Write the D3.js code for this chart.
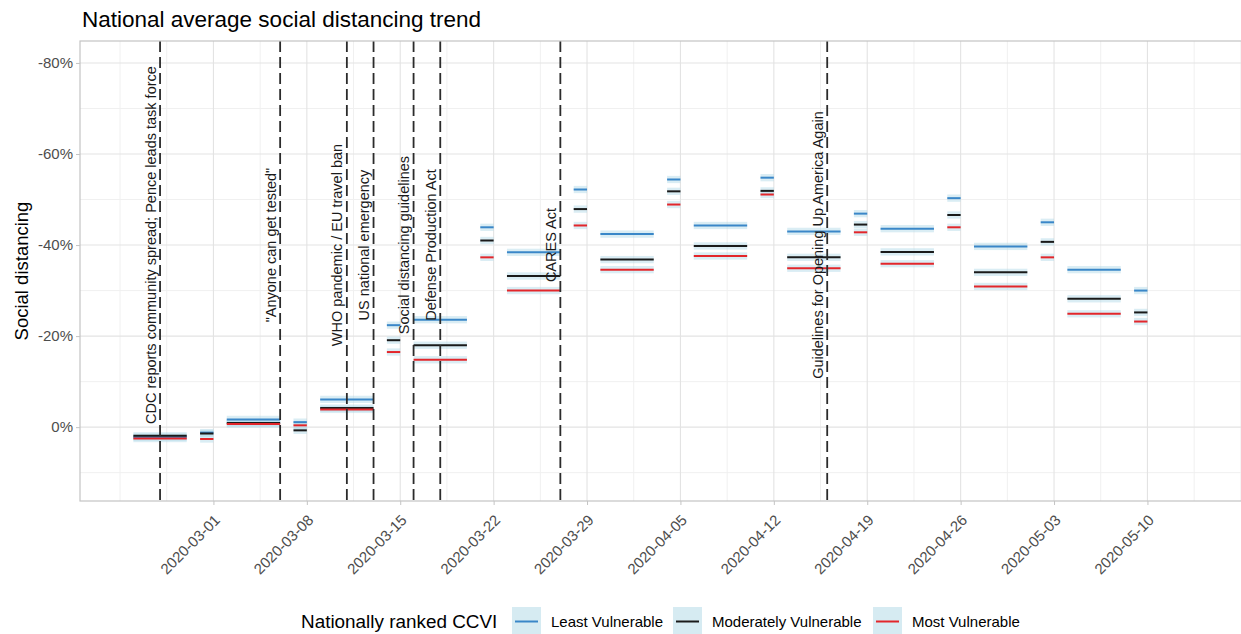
<!DOCTYPE html>
<html><head><meta charset="utf-8">
<script src="https://cdn.jsdelivr.net/npm/d3@7"></script>
<style>
body{margin:0;background:#fff;}
text{font-family:"Liberation Sans",Arial,Helvetica,sans-serif;}
</style></head>
<body><svg id="chart" width="1241" height="634"></svg>
<script>
// ---- data ----
const periodStart = ["2020-02-24","2020-02-29","2020-03-02","2020-03-07","2020-03-09","2020-03-14","2020-03-16","2020-03-21","2020-03-23","2020-03-28","2020-03-30","2020-04-04","2020-04-06","2020-04-11","2020-04-13","2020-04-18","2020-04-20","2020-04-25","2020-04-27","2020-05-02","2020-05-04","2020-05-09"];
const periodEnd   = ["2020-02-28","2020-03-01","2020-03-06","2020-03-08","2020-03-13","2020-03-15","2020-03-20","2020-03-22","2020-03-27","2020-03-29","2020-04-03","2020-04-05","2020-04-10","2020-04-12","2020-04-17","2020-04-19","2020-04-24","2020-04-26","2020-05-01","2020-05-03","2020-05-08","2020-05-10"];
const leastVulnerable    = [0.022,0.012,-0.017,-0.011,-0.061,-0.224,-0.236,-0.439,-0.384,-0.522,-0.424,-0.544,-0.443,-0.548,-0.430,-0.469,-0.436,-0.503,-0.397,-0.450,-0.346,-0.300];
const moderateVulnerable = [0.019,0.014,-0.009,0.007,-0.042,-0.191,-0.180,-0.410,-0.332,-0.479,-0.368,-0.518,-0.398,-0.519,-0.373,-0.445,-0.385,-0.466,-0.340,-0.407,-0.282,-0.252];
const mostVulnerable     = [0.025,0.026,-0.007,-0.004,-0.039,-0.165,-0.148,-0.373,-0.300,-0.443,-0.346,-0.489,-0.376,-0.511,-0.349,-0.428,-0.359,-0.439,-0.309,-0.373,-0.249,-0.232];
const ciHalfWidth = 0.008;
const seriesNames = ["Least Vulnerable","Moderately Vulnerable","Most Vulnerable"];
const seriesColors = ["#3a87c8","#1a1a1a","#e3262b"];
const eventDates = ["2020-02-26","2020-03-06","2020-03-11","2020-03-13","2020-03-16","2020-03-18","2020-03-27","2020-04-16"];
const eventLabels = ["CDC reports community spread; Pence leads task force","\"Anyone can get tested\"","WHO pandemic / EU travel ban","US national emergency","Social distancing guidelines","Defense Production Act","CARES Act","Guidelines for Opening Up America Again"];
const xTickDates = ["2020-03-01","2020-03-08","2020-03-15","2020-03-22","2020-03-29","2020-04-05","2020-04-12","2020-04-19","2020-04-26","2020-05-03","2020-05-10"];
const yTicks = [-0.8,-0.6,-0.4,-0.2,0];
const yMinor = [-0.7,-0.5,-0.3,-0.1,0.1];

// ---- layout ----
const parse = d3.utcParse("%Y-%m-%d");
const P = {left:80, right:1241, top:41, bottom:501};
const svg = d3.select("#chart");
const x = d3.scaleUtc().domain([parse("2020-02-20"), parse("2020-05-17")]).range([P.left, P.left + 87*13.343]);
const y = d3.scaleLinear().domain([0.1622,-0.8482]).range([P.bottom, P.top]);

const xMajor = [parse("2020-02-23")].concat(xTickDates.map(parse)).concat([parse("2020-05-17")]);
const xMinor = [];
for (let i=0;i<xMajor.length-1;i++){ xMinor.push(new Date((+xMajor[i]+ +xMajor[i+1])/2)); }

const g = svg.append("g");
// grid
g.selectAll(".ymin").data(yMinor).join("line").attr("x1",P.left).attr("x2",P.right).attr("y1",d=>y(d)).attr("y2",d=>y(d)).attr("stroke","#f0f0f0").attr("stroke-width",1);
g.selectAll(".xmin").data(xMinor.concat([xMajor[0], xMajor[xMajor.length-1]])).join("line").attr("x1",d=>x(d)).attr("x2",d=>x(d)).attr("y1",P.top).attr("y2",P.bottom).attr("stroke","#f0f0f0").attr("stroke-width",1);
g.selectAll(".ymaj").data(yTicks).join("line").attr("x1",P.left).attr("x2",P.right).attr("y1",d=>y(d)).attr("y2",d=>y(d)).attr("stroke","#e3e3e3").attr("stroke-width",1.1);
g.selectAll(".xmaj").data(xTickDates.map(parse)).join("line").attr("x1",d=>x(d)).attr("x2",d=>x(d)).attr("y1",P.top).attr("y2",P.bottom).attr("stroke","#e3e3e3").attr("stroke-width",1.1);

// ribbons
const allSeries = [leastVulnerable, moderateVulnerable, mostVulnerable];
allSeries.forEach((vals,si)=>{
  g.append("g").selectAll("rect").data(vals).join("rect")
    .attr("x",(d,i)=>x(parse(periodStart[i])))
    .attr("width",(d,i)=>x(parse(periodEnd[i]))-x(parse(periodStart[i])))
    .attr("y",d=>y(d-ciHalfWidth))
    .attr("height",d=>y(d+ciHalfWidth)-y(d-ciHalfWidth))
    .attr("fill","#add8e6").attr("fill-opacity",0.45);
});
// lines
allSeries.forEach((vals,si)=>{
  g.append("g").selectAll("line").data(vals).join("line")
    .attr("x1",(d,i)=>x(parse(periodStart[i])))
    .attr("x2",(d,i)=>x(parse(periodEnd[i])))
    .attr("y1",d=>y(d)).attr("y2",d=>y(d))
    .attr("stroke",seriesColors[si]).attr("stroke-width",2);
});

// event lines
g.selectAll(".ev").data(eventDates).join("line")
  .attr("x1",d=>x(parse(d))).attr("x2",d=>x(parse(d)))
  .attr("y1",P.top).attr("y2",P.bottom)
  .attr("stroke","#2b2b2b").attr("stroke-width",1.8).attr("stroke-dasharray","11,5");
g.selectAll(".evt").data(eventDates).join("text")
  .attr("transform",d=>`translate(${x(parse(d))-4.5},${y(-0.4)}) rotate(-90)`)
  .attr("text-anchor","middle").attr("font-size",14.5).attr("fill","#1a1a1a")
  .text((d,i)=>eventLabels[i]);

// panel border
svg.append("rect").attr("x",P.left).attr("y",P.top).attr("width",P.right-P.left+2).attr("height",P.bottom-P.top)
  .attr("fill","none").attr("stroke","#c4c4c4").attr("stroke-width",1.2);

// y axis
const yAxis = d3.axisLeft(y).tickValues(yTicks).tickFormat(d=>d3.format(".0%")(d).replace("−","-")).tickSize(4).tickPadding(3);
const ya = svg.append("g").attr("transform",`translate(${P.left},0)`).call(yAxis);
ya.select(".domain").remove();
ya.selectAll("line").attr("stroke","#c4c4c4");
ya.selectAll("text").attr("font-size",15).attr("fill","#4d4d4d").attr("font-family","Liberation Sans, Arial, sans-serif");

// x axis
const xAxis = d3.axisBottom(x).tickValues(xTickDates.map(parse)).tickFormat(d3.utcFormat("%Y-%m-%d")).tickSize(4);
const xa = svg.append("g").attr("transform",`translate(0,${P.bottom})`).call(xAxis);
xa.select(".domain").remove();
xa.selectAll("line").attr("stroke","#c4c4c4");
xa.selectAll("text").attr("font-size",15).attr("fill","#4d4d4d").attr("font-family","Liberation Sans, Arial, sans-serif")
  .attr("text-anchor","end").attr("dy",null).attr("y",null)
  .attr("transform","translate(7,20) rotate(-45)");

// titles
svg.append("text").attr("x",82).attr("y",27).attr("font-size",22.5).attr("fill","#000").text("National average social distancing trend");
svg.append("text").attr("transform",`translate(28,${(P.top+P.bottom)/2}) rotate(-90)`).attr("text-anchor","middle").attr("font-size",18.5).attr("fill","#000").text("Social distancing");

// legend
const lg = svg.append("g");
lg.append("text").attr("x",301).attr("y",628).attr("font-size",18.9).attr("fill","#000").text("Nationally ranked CCVI");
const keyX = [512,673,873];
seriesNames.forEach((n,i)=>{
  lg.append("rect").attr("x",keyX[i]).attr("y",607).attr("width",29).attr("height",28).attr("fill","#add8e6").attr("fill-opacity",0.5);
  lg.append("line").attr("x1",keyX[i]+3).attr("x2",keyX[i]+26).attr("y1",621.5).attr("y2",621.5).attr("stroke",seriesColors[i]).attr("stroke-width",2);
  lg.append("text").attr("x",keyX[i]+39).attr("y",627).attr("font-size",15).attr("fill","#000").text(n);
});
</script></body></html>
